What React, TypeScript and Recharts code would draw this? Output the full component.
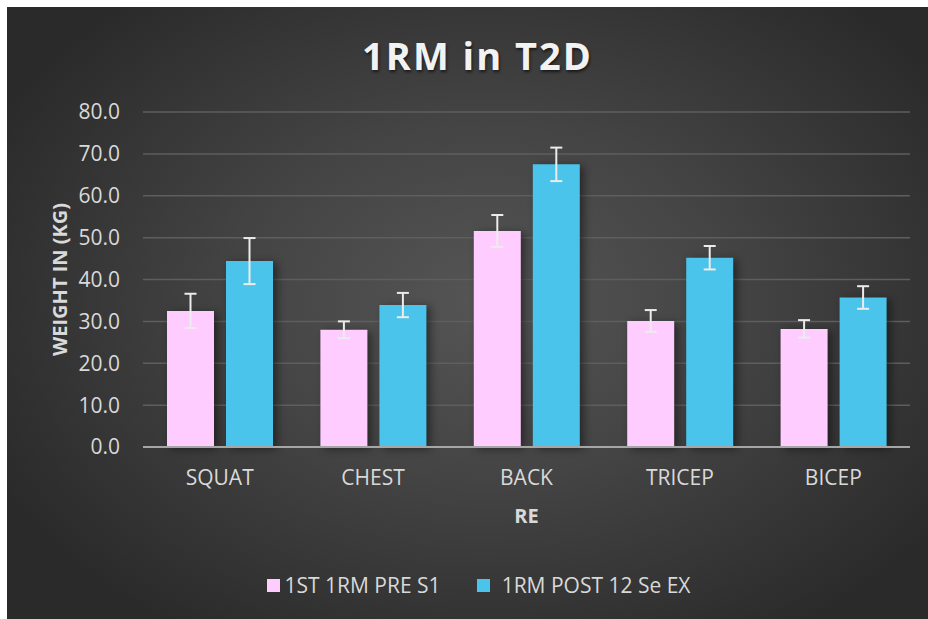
import React from 'react';
import {
  BarChart,
  Bar,
  XAxis,
  YAxis,
  CartesianGrid,
  Legend,
  ErrorBar,
} from 'recharts';

// Values
const exercises = ['SQUAT', 'CHEST', 'BACK', 'TRICEP', 'BICEP'];
const preValues = [32.5, 28.0, 51.6, 30.1, 28.2];
const preErrors = [4.1, 2.0, 3.8, 2.6, 2.1];
const postValues = [44.4, 33.9, 67.5, 45.2, 35.7];
const postErrors = [5.5, 2.9, 4.0, 2.8, 2.7];
const yTicks = [0, 10, 20, 30, 40, 50, 60, 70, 80];

const PRE_NAME = '1ST 1RM PRE S1';
const POST_NAME = '1RM POST 12 Se EX';
const PINK = '#FFCCFF';
const BLUE = '#4BC4EB';
const TEXT = '#d9d9d9';
const FONT = '"Open Sans", "DejaVu Sans", sans-serif';

const data = exercises.map((name, i) => ({
  name,
  pre: preValues[i],
  preErr: preErrors[i],
  post: postValues[i],
  postErr: postErrors[i],
}));

const YLabel = (props: any) => {
  const { viewBox } = props;
  const cx = 60;
  const cy = viewBox.y + viewBox.height / 2;
  return (
    <text
      x={cx}
      y={cy}
      transform={`rotate(-90 ${cx} ${cy})`}
      textAnchor="middle"
      fill={TEXT}
      fontFamily={FONT}
      fontWeight={700}
      fontSize={20}
    >
      WEIGHT IN (KG)
    </text>
  );
};

const XLabel = (props: any) => {
  const { viewBox } = props;
  return (
    <text
      x={viewBox.x + viewBox.width / 2}
      y={viewBox.y + 76}
      textAnchor="middle"
      fill={TEXT}
      fontFamily={FONT}
      fontWeight={700}
      fontSize={20}
    >
      RE
    </text>
  );
};

const LegendContent = () => (
  <div
    style={{
      display: 'flex',
      justifyContent: 'center',
      alignItems: 'center',
      height: 30,
      paddingLeft: 40,
      fontFamily: FONT,
      fontSize: 21,
      color: TEXT,
    }}
  >
    <span style={{ width: 13, height: 13, background: PINK, display: 'inline-block' }} />
    <span style={{ marginLeft: 5 }}>{PRE_NAME}</span>
    <span style={{ width: 13, height: 13, background: BLUE, display: 'inline-block', marginLeft: 36 }} />
    <span style={{ marginLeft: 12 }}>{POST_NAME}</span>
  </div>
);

export default function App() {
  return (
    <div
      style={{
        position: 'absolute',
        left: 7,
        top: 7,
        width: 921,
        height: 612,
        background: 'radial-gradient(ellipse 60% 65% at 52% 48%, #555555 0%, #444444 45%, #2a2a2a 100%)',
        fontFamily: FONT,
      }}
    >
      <style>{`.recharts-bar-rectangle path { filter: drop-shadow(4px 2px 4px rgba(0,0,0,0.45)); }`}</style>
      <div
        style={{
          position: 'absolute',
          top: 26,
          left: 10,
          width: 921,
          textAlign: 'center',
          fontSize: 38,
          lineHeight: '44px',
          fontWeight: 700,
          letterSpacing: 2,
          color: '#f2f2f2',
          textShadow: '1px 2px 3px rgba(0,0,0,0.6)',
        }}
      >
        1RM in T2D
      </div>
      <BarChart
        width={921}
        height={612}
        data={data}
        margin={{ top: 105, right: 18, bottom: 19, left: 0 }}
        barSize={47}
        barGap={12}
      >
        <CartesianGrid vertical={false} stroke="#5e5e5e" strokeWidth={1.5} />
        <XAxis
          dataKey="name"
          height={123}
          tickLine={false}
          tickMargin={17}
          axisLine={{ stroke: '#a6a6a6', strokeWidth: 2 }}
          tick={{ fill: TEXT, fontSize: 21, fontFamily: FONT }}
          label={<XLabel />}
        />
        <YAxis
          width={136}
          domain={[0, 80]}
          ticks={yTicks}
          tickFormatter={(v: number) => v.toFixed(1)}
          tickLine={false}
          axisLine={false}
          tickMargin={17}
          tick={{ fill: TEXT, fontSize: 21, fontFamily: FONT }}
          label={<YLabel />}
        />
        <Legend verticalAlign="bottom" content={<LegendContent />} />
        <Bar dataKey="pre" name={PRE_NAME} fill={PINK} isAnimationActive={false}>
          <ErrorBar dataKey="preErr" width={6} strokeWidth={2} stroke="#ececec" />
        </Bar>
        <Bar dataKey="post" name={POST_NAME} fill={BLUE} isAnimationActive={false}>
          <ErrorBar dataKey="postErr" width={6} strokeWidth={2} stroke="#ececec" />
        </Bar>
      </BarChart>
    </div>
  );
}
